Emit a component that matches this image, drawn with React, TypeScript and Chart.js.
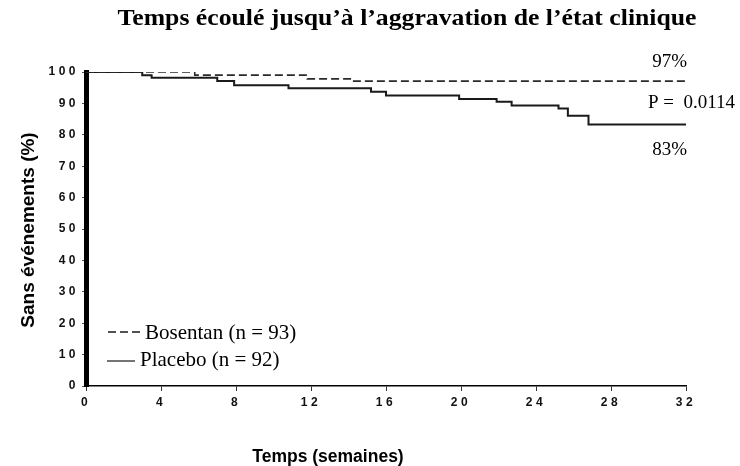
import { useEffect, useRef } from 'react';
import { Chart, registerables } from 'chart.js';

Chart.register(...registerables);

// ---- Data ----
const bosentanWeeks = [0, 5.8, 11.8, 14.2, 32];
const bosentanSurvival = [100, 99.0, 97.8, 97.1, 97.1];
const placeboWeeks = [0, 3.0, 3.5, 7.0, 7.9, 10.8, 15.2, 16.0, 19.9, 21.9, 22.7, 25.2, 25.7, 26.8, 32];
const placeboSurvival = [100, 99.0, 98.2, 97.1, 95.8, 94.8, 93.7, 92.5, 91.4, 90.5, 89.3, 88.4, 86.1, 83.3, 83.3];
const xTickValues = [0, 4, 8, 12, 16, 20, 24, 28, 32];
const yTickValues = [0, 10, 20, 30, 40, 50, 60, 70, 80, 90, 100];
const seriesLabels = ['Bosentan (n = 93)', 'Placebo (n = 92)'];
const endLabels = ['97%', '83%'];
const pValueLabel = 'P =  0.0114';
const titleText = 'Temps écoulé jusqu’à l’aggravation de l’état clinique';
const xAxisTitle = 'Temps (semaines)';
const yAxisTitle = 'Sans événements (%)';

const TICK_SPACING = '3.5px';
const LINE_COLOR = '#1a1a1a';

const textPlugin = {
  id: 'customText',
  beforeLayout(chart: any) {
    chart.ctx.letterSpacing = TICK_SPACING;
  },
  beforeDraw(chart: any) {
    chart.ctx.letterSpacing = TICK_SPACING;
  },
  beforeDatasetsDraw(chart: any) {
    chart.ctx.letterSpacing = '0px';
  },
  afterDraw(chart: any) {
    const { ctx, chartArea: a, scales } = chart;
    const xs = scales.x;
    const ys = scales.y;
    ctx.save();
    ctx.letterSpacing = '0px';
    ctx.fillStyle = '#000';
    ctx.textBaseline = 'alphabetic';

    // Title (slightly widened like the reference)
    ctx.save();
    ctx.font = 'bold 23px "Liberation Serif"';
    ctx.textAlign = 'center';
    const tw = ctx.measureText(titleText).width;
    const sx = 579 / tw;
    ctx.translate(a.left + 321, 25);
    ctx.scale(sx, 1);
    ctx.fillText(titleText, 0, 0);
    ctx.restore();

    // X axis title
    ctx.font = 'bold 17.5px "Liberation Sans"';
    ctx.textAlign = 'center';
    ctx.fillText(xAxisTitle, a.left + 242, a.bottom + 76);

    // Y axis title
    ctx.save();
    ctx.translate(34, (a.top + a.bottom) / 2 + 1);
    ctx.rotate(-Math.PI / 2);
    ctx.font = 'bold 19px "Liberation Sans"';
    ctx.textAlign = 'center';
    ctx.fillText(yAxisTitle, 0, 0);
    ctx.restore();

    // End labels and p-value
    const xEnd = xs.getPixelForValue(32);
    ctx.font = '19px "Liberation Serif"';
    ctx.textAlign = 'right';
    ctx.fillText(endLabels[0], xEnd + 1, ys.getPixelForValue(bosentanSurvival[bosentanSurvival.length - 1]) - 14);
    ctx.fillText(endLabels[1], xEnd + 1, ys.getPixelForValue(placeboSurvival[placeboSurvival.length - 1]) + 31);
    ctx.textAlign = 'left';
    ctx.fillText(pValueLabel, xEnd - 38, ys.getPixelForValue(88.5));

    // Legend
    const lx = a.left;
    ctx.font = '21px "Liberation Serif"';
    ctx.strokeStyle = LINE_COLOR;
    ctx.lineWidth = 1.5;
    ctx.setLineDash([8, 4]);
    ctx.beginPath();
    ctx.moveTo(lx + 22, a.bottom - 54);
    ctx.lineTo(lx + 57, a.bottom - 54);
    ctx.stroke();
    ctx.setLineDash([]);
    ctx.lineWidth = 1.2;
    ctx.beginPath();
    ctx.moveTo(lx + 21, a.bottom - 25);
    ctx.lineTo(lx + 49, a.bottom - 25);
    ctx.stroke();
    ctx.fillText(seriesLabels[0], lx + 59, a.bottom - 47);
    ctx.fillText(seriesLabels[1], lx + 54, a.bottom - 20);

    ctx.restore();
  },
};

export default function App() {
  const canvasRef = useRef<HTMLCanvasElement | null>(null);

  useEffect(() => {
    if (!canvasRef.current) return;
    const chart = new Chart(canvasRef.current, {
      type: 'line',
      data: {
        datasets: [
          {
            label: seriesLabels[0],
            data: bosentanWeeks.map((w, i) => ({ x: w, y: bosentanSurvival[i] })),
            stepped: 'before',
            borderColor: '#2a2a2a',
            borderWidth: 1.6,
            borderDash: [8, 4],
            pointRadius: 0,
            fill: false,
          },
          {
            label: seriesLabels[1],
            data: placeboWeeks.map((w, i) => ({ x: w, y: placeboSurvival[i] })),
            stepped: 'before',
            borderColor: LINE_COLOR,
            borderWidth: 2,
            pointRadius: 0,
            fill: false,
          },
        ],
      },
      options: {
        animation: false,
        responsive: true,
        maintainAspectRatio: false,
        layout: { padding: { left: 0, top: 72, right: 54, bottom: 0 } },
        plugins: {
          legend: { display: false },
          title: { display: false },
          tooltip: { enabled: false },
        },
        scales: {
          x: {
            type: 'linear',
            min: 0,
            max: 32,
            afterBuildTicks: (s: any) => {
              s.ticks = xTickValues.map((v) => ({ value: v }));
            },
            afterFit: (s: any) => {
              s.height = 80;
            },
            ticks: {
              padding: 4,
              color: '#111',
              font: { family: '"Liberation Sans"', size: 12, weight: 'bold' },
              maxRotation: 0,
              autoSkip: false,
            },
            grid: { drawOnChartArea: false, drawTicks: true, tickLength: 5, color: '#333', lineWidth: 1 },
            border: { display: true, color: '#000', width: 1.5 },
          },
          y: {
            type: 'linear',
            min: 0,
            max: 100,
            afterBuildTicks: (s: any) => {
              s.ticks = yTickValues.map((v) => ({ value: v }));
            },
            afterFit: (s: any) => {
              s.width = 86;
            },
            ticks: {
              padding: 3,
              color: '#111',
              font: { family: '"Liberation Sans"', size: 12, weight: 'bold' },
              autoSkip: false,
            },
            grid: { drawOnChartArea: false, drawTicks: true, tickLength: 4, color: '#555', lineWidth: 1 },
            border: { display: true, color: '#000', width: 5 },
          },
        },
      },
      plugins: [textPlugin],
    });
    return () => chart.destroy();
  }, []);

  return (
    <div style={{ position: 'absolute', left: 0, top: 0, width: 740, height: 466, background: '#fff' }}>
      <canvas ref={canvasRef} />
    </div>
  );
}
